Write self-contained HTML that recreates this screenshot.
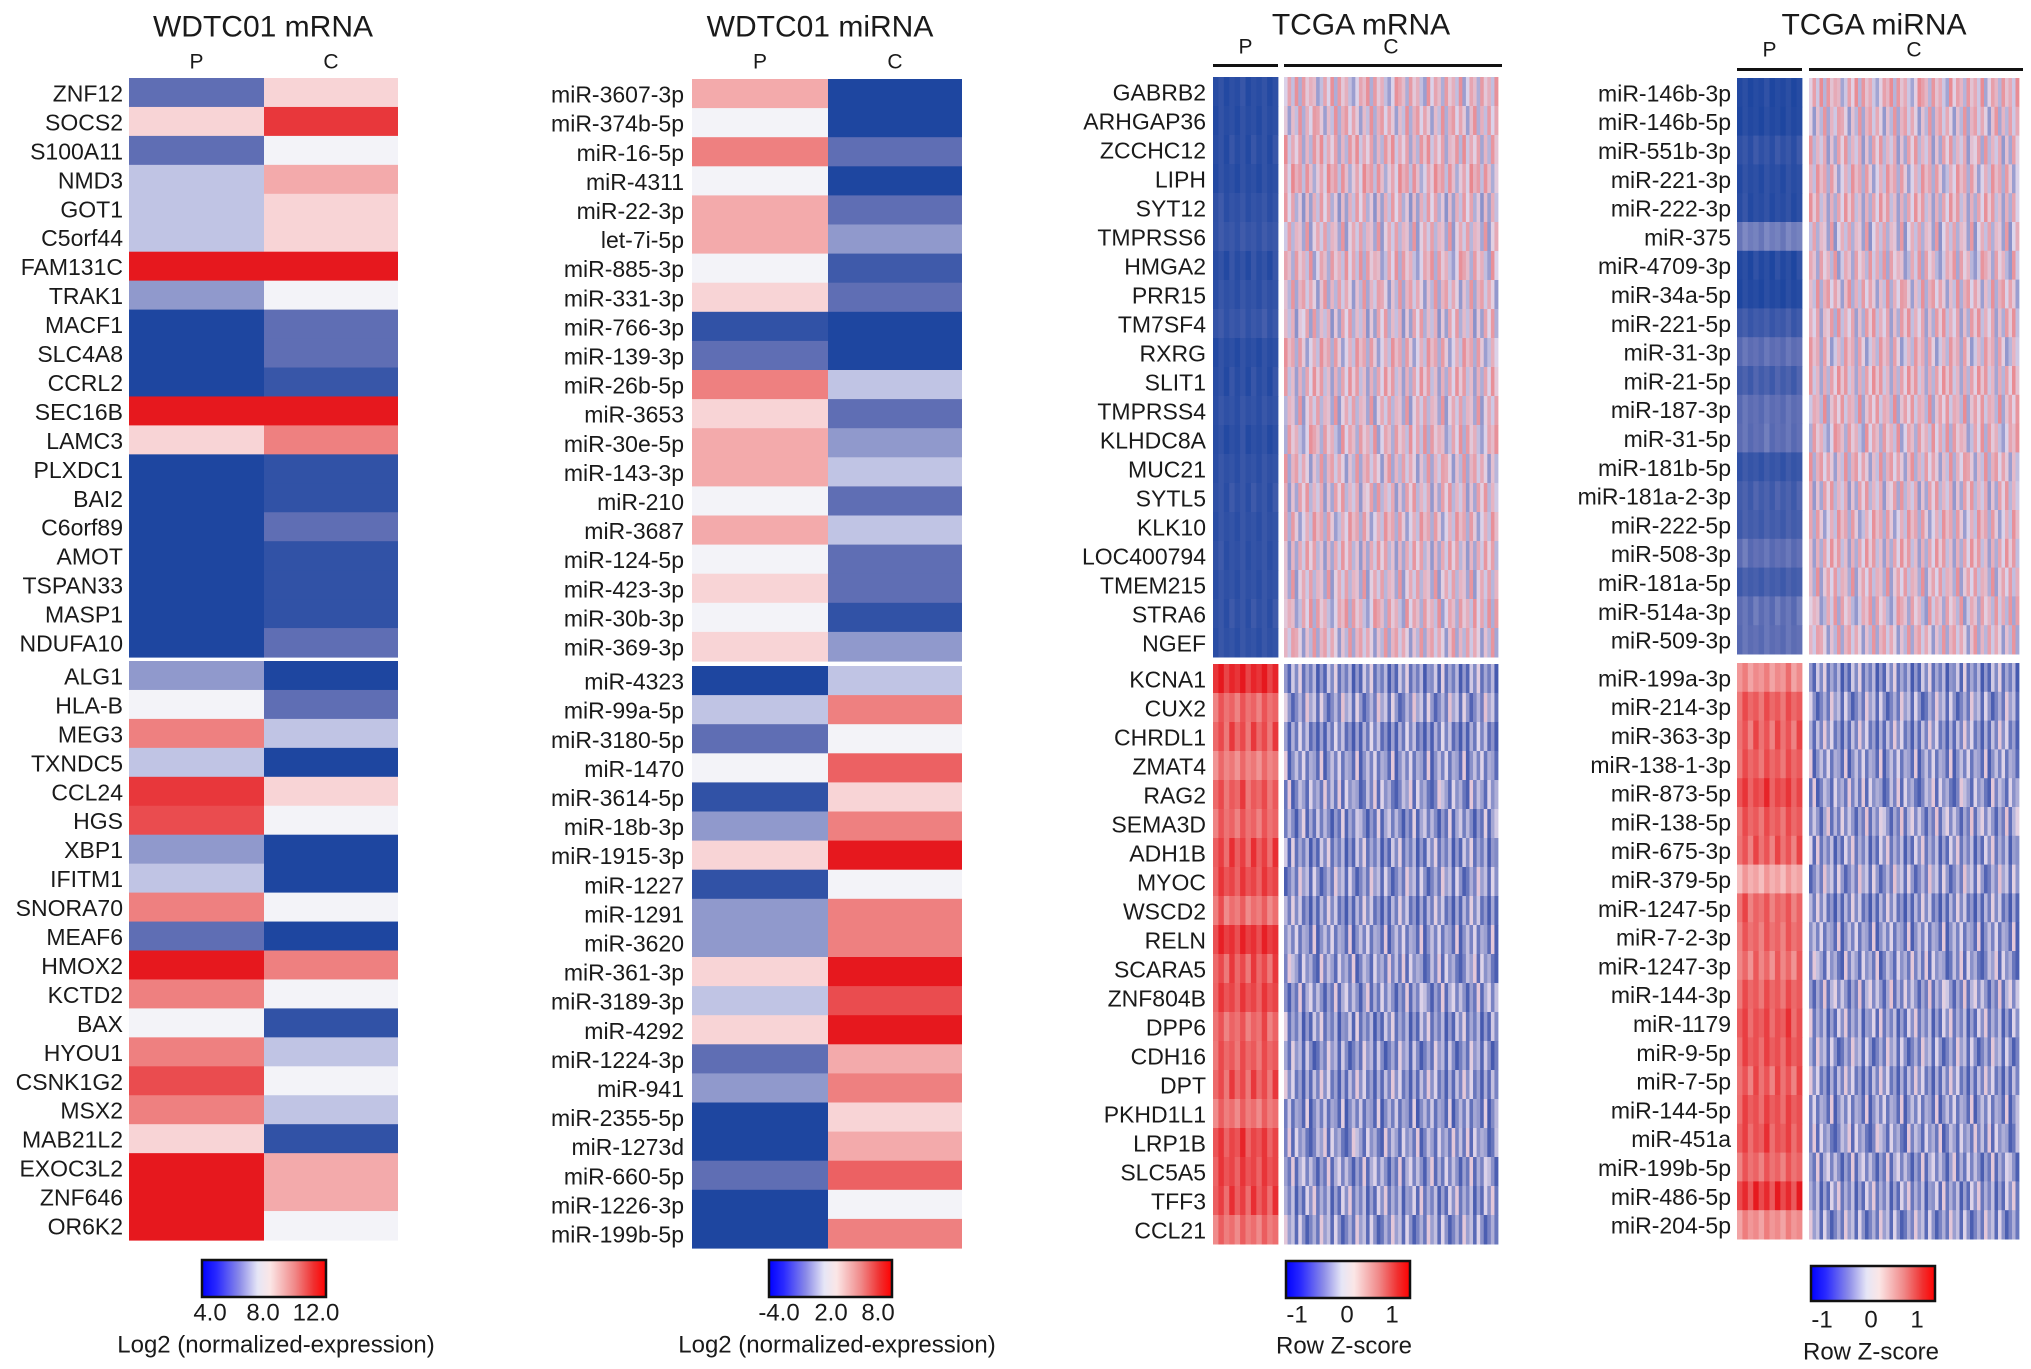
<!DOCTYPE html>
<html><head><meta charset="utf-8"><style>
html,body{margin:0;padding:0;background:#fff;}
svg{display:block;font-family:"Liberation Sans",Arial,sans-serif;}
</style></head><body>
<svg id="fig" width="2031" height="1369" viewBox="0 0 2031 1369" xmlns="http://www.w3.org/2000/svg">
<defs>
<linearGradient id="lg" x1="0" x2="1" y1="0" y2="0">
<stop offset="0" stop-color="#0000ff"/><stop offset="0.12" stop-color="#2a2aff"/><stop offset="0.3" stop-color="#8a8ae8"/><stop offset="0.45" stop-color="#e6e6f6"/><stop offset="0.55" stop-color="#fbe6e6"/><stop offset="0.75" stop-color="#f08888"/><stop offset="0.9" stop-color="#f03030"/><stop offset="1" stop-color="#ff0000"/>
</linearGradient>
</defs>
<g id="root"></g>
</svg>
<script>
// ---- Data: WDTC01 mRNA ----
const mrnaGenes = ["ZNF12","SOCS2","S100A11","NMD3","GOT1","C5orf44","FAM131C","TRAK1","MACF1","SLC4A8","CCRL2","SEC16B","LAMC3","PLXDC1","BAI2","C6orf89","AMOT","TSPAN33","MASP1","NDUFA10","ALG1","HLA-B","MEG3","TXNDC5","CCL24","HGS","XBP1","IFITM1","SNORA70","MEAF6","HMOX2","KCTD2","BAX","HYOU1","CSNK1G2","MSX2","MAB21L2","EXOC3L2","ZNF646","OR6K2"];
const mrnaP = [-2,1,-2,-1,-1,-1,3,-1.5,-3,-3,-3,3,1,-3,-3,-3,-3,-3,-3,-3,-1.5,0,2,-1,2.7,2.5,-1.5,-1,2,-2,3,2,0,2,2.5,2,1,3,3,3];
const mrnaC = [1,2.7,0,1.5,1,1,3,0,-2,-2,-2.6,3,2,-2.7,-2.7,-2,-2.7,-2.7,-2.7,-2,-3,-2,-1,-3,1,0,-3,-3,0,-3,2,0,-2.7,-1,0,-1,-2.7,1.5,1.5,0];
// ---- Data: WDTC01 miRNA ----
const mirGenes = ["miR-3607-3p","miR-374b-5p","miR-16-5p","miR-4311","miR-22-3p","let-7i-5p","miR-885-3p","miR-331-3p","miR-766-3p","miR-139-3p","miR-26b-5p","miR-3653","miR-30e-5p","miR-143-3p","miR-210","miR-3687","miR-124-5p","miR-423-3p","miR-30b-3p","miR-369-3p","miR-4323","miR-99a-5p","miR-3180-5p","miR-1470","miR-3614-5p","miR-18b-3p","miR-1915-3p","miR-1227","miR-1291","miR-3620","miR-361-3p","miR-3189-3p","miR-4292","miR-1224-3p","miR-941","miR-2355-5p","miR-1273d","miR-660-5p","miR-1226-3p","miR-199b-5p"];
const mirP = [1.5,0,2,0,1.5,1.5,0,1,-2.7,-2,2,1,1.5,1.5,0,1.5,0,1,0,1,-3,-1,-2,0,-2.7,-1.5,1,-2.7,-1.5,-1.5,1,-1,1,-2,-1.5,-3,-3,-2,-3,-3];
const mirC = [-3,-3,-2,-3,-2,-1.5,-2.5,-2,-3,-3,-1,-2,-1.5,-1,-2,-1,-2,-2,-2.7,-1.5,-1,2,0,2.3,1,2,3,0,2,2,3,2.5,3,1.5,2,1,1.5,2.3,0,2];
// ---- Data: TCGA mRNA ----
const tcgaMGenes = ["GABRB2","ARHGAP36","ZCCHC12","LIPH","SYT12","TMPRSS6","HMGA2","PRR15","TM7SF4","RXRG","SLIT1","TMPRSS4","KLHDC8A","MUC21","SYTL5","KLK10","LOC400794","TMEM215","STRA6","NGEF","KCNA1","CUX2","CHRDL1","ZMAT4","RAG2","SEMA3D","ADH1B","MYOC","WSCD2","RELN","SCARA5","ZNF804B","DPP6","CDH16","DPT","PKHD1L1","LRP1B","SLC5A5","TFF3","CCL21"];
const tcgaMPmean = [-2.8,-2.8,-2.8,-2.8,-2.7,-2.6,-2.8,-2.7,-2.6,-2.8,-2.8,-2.7,-2.8,-2.7,-2.7,-2.7,-2.7,-2.7,-2.7,-2.7,2.8,2.2,2.3,2.0,2.3,2.2,2.4,2.5,2.1,2.7,2.3,2.5,2.2,2.3,2.3,2.1,2.5,2.5,2.4,2.1];
const tcgaMCmean = [0.3,0.3,0.4,0.5,0.1,0.2,0.3,0.2,0.1,0.3,0.3,0.2,0.3,0.2,0.2,0.3,0.2,0.2,0.3,0.2,-0.9,-0.7,-1,-0.8,-0.8,-0.9,-0.9,-0.8,-0.9,-0.8,-0.8,-0.8,-0.9,-0.9,-0.8,-0.9,-0.8,-0.8,-0.8,-0.8];
// ---- Data: TCGA miRNA ----
const tcgaRGenes = ["miR-146b-3p","miR-146b-5p","miR-551b-3p","miR-221-3p","miR-222-3p","miR-375","miR-4709-3p","miR-34a-5p","miR-221-5p","miR-31-3p","miR-21-5p","miR-187-3p","miR-31-5p","miR-181b-5p","miR-181a-2-3p","miR-222-5p","miR-508-3p","miR-181a-5p","miR-514a-3p","miR-509-3p","miR-199a-3p","miR-214-3p","miR-363-3p","miR-138-1-3p","miR-873-5p","miR-138-5p","miR-675-3p","miR-379-5p","miR-1247-5p","miR-7-2-3p","miR-1247-3p","miR-144-3p","miR-1179","miR-9-5p","miR-7-5p","miR-144-5p","miR-451a","miR-199b-5p","miR-486-5p","miR-204-5p"];
const tcgaRPmean = [-2.9,-2.9,-2.7,-2.8,-2.8,-1.8,-2.9,-2.9,-2.5,-2.0,-2.4,-2.0,-2.0,-2.6,-2.4,-2.4,-2.0,-2.4,-2.0,-2.0,1.8,2.3,2.2,2.3,2.5,2.3,2.2,1.5,2.2,2.2,2.0,2.3,2.4,2.4,2.2,2.4,2.4,2.2,2.6,1.8];
const tcgaRCmean = [0.4,0.2,0.2,0.3,0.3,0.1,0.2,0.3,0.3,0.2,0.4,0.4,0.3,0.3,0.2,0.3,0.3,0.3,0.2,0.2,-0.9,-0.8,-0.8,-0.8,-0.8,-0.7,-0.8,-0.7,-0.9,-0.8,-0.8,-0.7,-0.8,-0.8,-0.8,-0.8,-0.8,-0.8,-0.8,-0.8];
// Hand-typed column texture (digits 0-9 = deviation low..high)
const texC = [
"372918465027391846203759184620397518462093751846290375184629",
"916283740529163874052916837405291683740529168374052916837405",
"548192637051849263705184926370518492637051849263705184926370",
"263957184036295718403629571840362957184036295718403629571840",
"825061739482506173948250617394825061739482506173948250617394",
"190473826519047382651904738265190473826519047382651904738265"];
const texP = ["463547354635","536453645364","374637463746","645364536453"];
const legTicks1 = ["4.0","8.0","12.0"];
const legTicks2 = ["-4.0","2.0","8.0"];
const legTicksZ = ["-1","0","1"];

// ---- colour scale (-3 blue .. 0 white .. 3 red) ----
const stops = [[-3,[30,70,160]],[-2,[95,110,180]],[-1,[192,196,228]],[0,[243,243,248]],[1,[248,212,214]],[2,[238,128,128]],[3,[230,24,30]]];
function col(v){
  v=Math.max(-3,Math.min(3,v));
  for(let i=0;i<stops.length-1;i++){
    const a=stops[i],b=stops[i+1];
    if(v<=b[0]){const t=(v-a[0])/(b[0]-a[0]);
      const c=a[1].map((x,k)=>Math.round(x+(b[1][k]-x)*t));
      return `rgb(${c[0]},${c[1]},${c[2]})`;}
  }
  return 'rgb(230,24,30)';
}
// muted scale for TCGA control columns (purplish blend as in reference)
function colMuted(v){
  v=Math.max(-3,Math.min(3,v));
  const lo=[70,90,175], mid=[225,215,235], hi=[235,120,125];
  let a,b,t;
  if(v<0){a=mid;b=lo;t=-v/3;}else{a=mid;b=hi;t=v/3;}
  t=Math.pow(t,0.8);
  const c=a.map((x,k)=>Math.round(x+(b[k]-x)*t));
  return `rgb(${c[0]},${c[1]},${c[2]})`;
}
const NS="http://www.w3.org/2000/svg";
const root=document.getElementById('root');
function mk(tag,attrs,parent){const e=document.createElementNS(NS,tag);for(const k in attrs)e.setAttribute(k,attrs[k]);(parent||root).appendChild(e);return e;}
function txt(x,y,s,size,anchor,parent){const t=mk('text',{x:x,y:y,'font-size':size,'text-anchor':anchor||'middle','dominant-baseline':'central',fill:'#1a1a1a'},parent);t.textContent=s;return t;}

function rowY(i,top,h,gapStart,gap){return i<20? top+i*h : gapStart+gap+(i-20)*h;}

// ---- WDTC panels ----
function wdtc(name,title,genes,P,C,x0,xm,x1,top,h,gap,labelX,titleX){
  const g=mk('g',{});
  
  
  const t=txt(titleX,27,title,30,'middle',g);
  
  
  const pl=txt((x0+xm)/2,62,'P',21,'middle',g);
  
  
  const cl=txt((xm+x1)/2,62,'C',21,'middle',g);
  
  
  for(let i=0;i<genes.length;i++){
    const y=rowY(i,top,h,top+20*h,gap);
    const a=mk('rect',{x:x0,y:y,width:xm-x0,height:h+0.6,fill:col(P[i])},g);
    
    
    const b=mk('rect',{x:xm,y:y,width:x1-xm,height:h+0.6,fill:col(C[i])},g);
    
    
    const l=txt(labelX,y+h/2+1,genes[i],23,'end',g);
    
    
  }
}
wdtc('wdtc01-mrna-heatmap','WDTC01 mRNA',mrnaGenes,mrnaP,mrnaC,129,264,398,78,28.95,4,123,263);
wdtc('wdtc01-mirna-heatmap','WDTC01 miRNA',mirGenes,mirP,mirC,692,828,962,79,29.1,5,684,820);

// ---- TCGA panels ----
function tcga(name,title,genes,Pm,Cm,px0,px1,cx0,cx1,top,h,gap,labelX,titleX,barY,pcY){
  const g=mk('g',{});
  
  
  const t=txt(titleX,25,title,30,'middle',g);
  
  
  const pl=txt((px0+px1)/2,pcY,'P',21,'middle',g);
  
  
  const cl=txt((cx0+cx1)/2,pcY,'C',21,'middle',g);
  
  
  const b1=mk('rect',{x:px0,y:barY,width:px1-px0,height:3,fill:'#111'},g);
  
  
  const b2=mk('rect',{x:cx0,y:barY,width:cx1-cx0+4,height:3,fill:'#111'},g);
  
  
  const nP=texP[0].length, nC=texC[0].length;
  const wP=(px1-px0)/nP, wC=(cx1-cx0)/nC;
  for(let i=0;i<genes.length;i++){
    const y=rowY(i,top,h,top+20*h,gap);
    const sp=texP[i%texP.length];
    const spread=Pm[i]<0?0.35:0.7;
    for(let j=0;j<nP;j++){
      const d=+sp[(j+i)%nP];
      const r=mk('rect',{x:px0+j*wP,y:y,width:wP+0.4,height:h+0.5,fill:col(Pm[i]+(d-4.5)/4.5*spread)},g);
      
      
    }
    const sc=texC[i%texC.length];
    for(let j=0;j<nC;j++){
      const d=+sc[(j+i*7)%nC];
      const r=mk('rect',{x:cx0+j*wC,y:y,width:wC+0.4,height:h+0.5,fill:colMuted(Cm[i]*1.6+(d-4.5)/4.5*1.6)},g);
      
      
    }
    const l=txt(labelX,y+h/2+1,genes[i],23,'end',g);
    
    
  }
}
tcga('tcga-mrna-heatmap','TCGA mRNA',tcgaMGenes,tcgaMPmean,tcgaMCmean,1213,1278,1284,1498,77,29,7,1206,1361,64,47);
tcga('tcga-mirna-heatmap','TCGA miRNA',tcgaRGenes,tcgaRPmean,tcgaRCmean,1737,1802,1809,2019,78,28.8,9,1731,1874,68,50);

// ---- legends ----
function legend(name,x0,x1,y0,y1,ticks,tx,ty,label,lx,ly){
  const g=mk('g',{});
  
  
  const r=mk('rect',{x:x0,y:y0,width:x1-x0,height:y1-y0,fill:'url(#lg)',stroke:'#111','stroke-width':2.5},g);
  
  
  ticks.forEach((s,i)=>{
    const t=txt(tx[i],ty,s,24,'middle',g);
    
    
  });
  const l=txt(lx,ly,label,24,'middle',g);
  
  
}
legend('legend-wdtc-mrna',202,326,1260,1297,legTicks1,[210,263,316],1313,'Log2 (normalized-expression)',276,1345);
legend('legend-wdtc-mirna',769,892,1260,1297,legTicks2,[779,831,878],1313,'Log2 (normalized-expression)',837,1345);
legend('legend-tcga-mrna',1286,1410,1261,1298,legTicksZ,[1297,1347,1392],1315,'Row Z-score',1344,1346);
legend('legend-tcga-mirna',1811,1935,1266,1301,legTicksZ,[1822,1871,1917],1320,'Row Z-score',1871,1352);
</script>
</body></html>
